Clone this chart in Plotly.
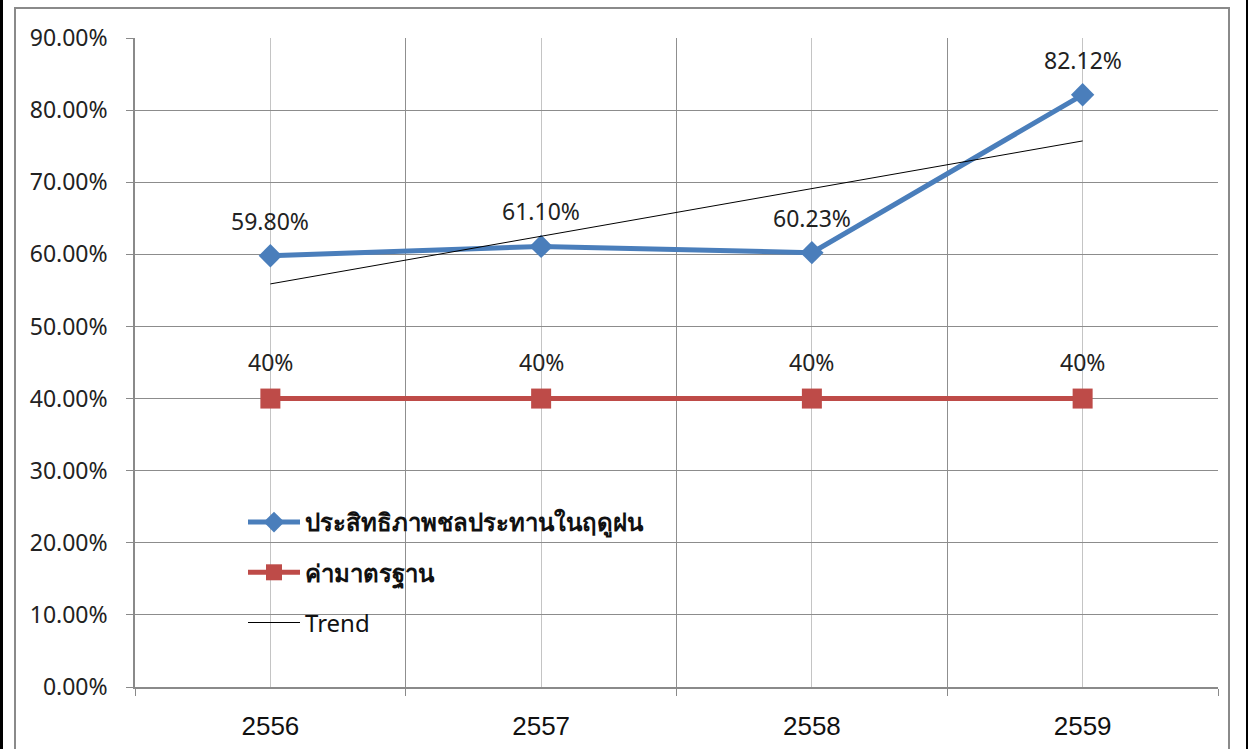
import numpy as np
import plotly.graph_objects as go

# Fiscal years (Thai Buddhist calendar)
years = ["2556", "2557", "2558", "2559"]
# Wet-season irrigation efficiency (fraction)
efficiency = [0.5980, 0.6110, 0.6023, 0.8212]
# Standard value (fraction)
standard = [0.40, 0.40, 0.40, 0.40]

eff_name = "<b>ประสิทธิภาพชลประทานในฤดูฝน</b>"
std_name = "<b>ค่ามาตรฐาน</b>"
trend_name = "Trend"

BLUE = "#4A7EBB"
RED = "#BE4B48"
FONT = "Noto Sans, DejaVu Sans, sans-serif"

xpos = np.arange(len(years))

# Linear trend of the efficiency series
slope, intercept = np.polyfit(xpos, efficiency, 1)
trend = slope * xpos + intercept

fig = go.Figure()
fig.add_trace(go.Scatter(
    x=xpos, y=efficiency, name=eff_name, mode="lines+markers",
    line=dict(color=BLUE, width=5),
    marker=dict(symbol="diamond", size=18, color=BLUE),
    legendgroup="a",
))
fig.add_trace(go.Scatter(
    x=xpos, y=standard, name=std_name, mode="lines+markers",
    line=dict(color=RED, width=5),
    marker=dict(symbol="square", size=20, color=RED),
    legendgroup="b",
))
fig.add_trace(go.Scatter(
    x=[xpos[0], xpos[-1]], y=[trend[0], trend[-1]], name=trend_name, mode="lines",
    line=dict(color="#000000", width=1),
    legendgroup="c",
))

# Value labels above each point
for xi, v in zip(xpos, efficiency):
    fig.add_annotation(x=xi, y=v, text=f"{v*100:.2f}%", showarrow=False,
                       yshift=35, font=dict(family=FONT, size=23, color="#222222"))
for xi, v in zip(xpos, standard):
    fig.add_annotation(x=xi, y=v, text=f"{v*100:.0f}%", showarrow=False,
                       yshift=37, font=dict(family=FONT, size=23, color="#222222"))

# Plot-area geometry in pixels, used to place the outer frame
W, H = 1248, 749
L, R, T, B = 135, 30, 38, 62
pw, ph = W - L - R, H - T - B


def px_x(p):
    return (p - L) / pw


def px_y(p):
    return (H - B - p) / ph


shapes = [
    # grey chart frame
    dict(type="rect", xref="paper", yref="paper",
         x0=px_x(15), x1=px_x(1229), y0=px_y(8), y1=px_y(800),
         line=dict(color="#8A8A8A", width=2), fillcolor="rgba(0,0,0,0)", layer="below"),
    # dark page edges
    dict(type="rect", xref="paper", yref="paper",
         x0=px_x(-2), x1=px_x(3), y0=px_y(-5), y1=px_y(760),
         line=dict(width=0), fillcolor="#000000"),
    dict(type="rect", xref="paper", yref="paper",
         x0=px_x(1246), x1=px_x(1252), y0=px_y(-5), y1=px_y(760),
         line=dict(width=0), fillcolor="#000000"),
]

fig.update_layout(
    width=W, height=H,
    margin=dict(l=L, r=R, t=T, b=B),
    paper_bgcolor="white", plot_bgcolor="white",
    font=dict(family=FONT, size=20, color="#222222"),
    showlegend=True,
    legend=dict(
        x=px_x(243), y=px_y(500), xanchor="left", yanchor="top",
        bgcolor="rgba(0,0,0,0)", traceorder="grouped", tracegroupgap=16,
        font=dict(family=FONT, size=24, color="#111111"),
        itemwidth=52,
    ),
    shapes=shapes,
    xaxis=dict(
        range=[-0.5, 3.5], automargin=False,
        tickmode="array", tickvals=list(xpos), ticktext=years,
        ticks="", showgrid=True, gridcolor="#C4C4C4", gridwidth=1,
        showline=True, linecolor="#8A8A8A", linewidth=1.5,
        tickfont=dict(family="Liberation Sans Narrow, Arial Narrow, Liberation Sans, sans-serif",
                      size=26, color="#111111"),
        ticklabelstandoff=15,
        zeroline=False,
        minor=dict(tickmode="array", tickvals=[-0.5, 0.5, 1.5, 2.5, 3.5],
                   ticks="outside", ticklen=7, tickcolor="#8A8A8A",
                   showgrid=True, gridcolor="#8F8F8F", gridwidth=1),
        mirror=False,
    ),
    yaxis=dict(
        range=[0, 0.9], dtick=0.1, tick0=0, tickformat=".2%", automargin=False,
        ticks="outside", ticklen=7, tickcolor="#8A8A8A",
        showgrid=True, gridcolor="#8C8C8C", gridwidth=1,
        showline=True, linecolor="#8A8A8A", linewidth=1.5,
        zeroline=False,
        tickfont=dict(family=FONT, size=23, color="#222222"),
        ticklabelstandoff=14,
    ),
)

fig.write_html("out.html")
